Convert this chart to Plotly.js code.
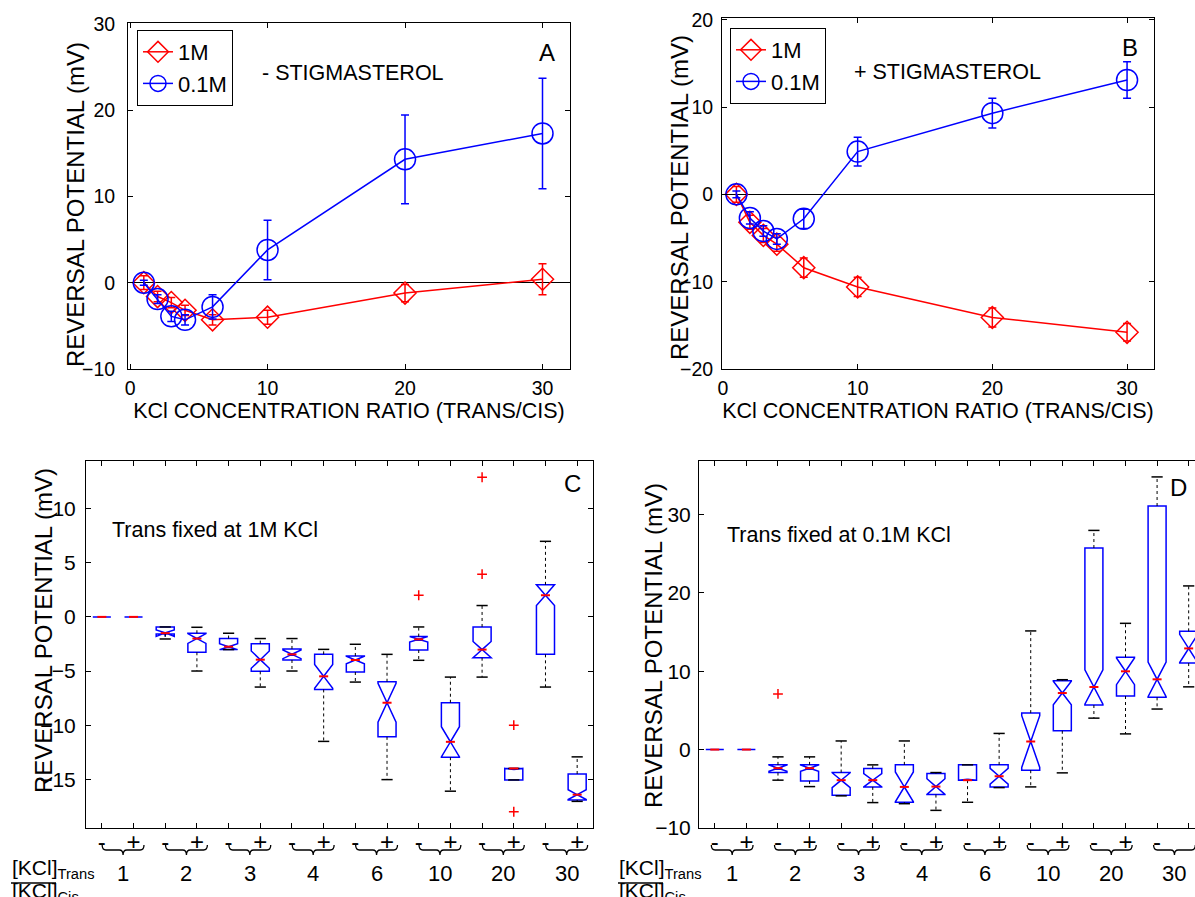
<!DOCTYPE html>
<html><head><meta charset="utf-8">
<script src="https://cdn.plot.ly/plotly-3.0.1.min.js"></script>
<style>html,body{margin:0;padding:0;background:#fff}#chart{width:1195px;height:897px}</style>
</head><body><div id="chart"></div>
<script>
// ---------- Panels A & B : mean reversal potential vs KCl ratio ----------
const ratioX = [1, 2, 3, 4, 6, 10, 20, 30];
const seriesNames = ['1M', '0.1M'];

const aOneM     = [0, -1.6, -2.3, -3.2, -4.3, -4.0, -1.2, 0.4];
const aOneMErr  = [0.8, 0.6, 0.6, 0.6, 0.6, 0.8, 1.0, 1.8];
const aTenthM    = [0, -1.9, -3.9, -4.3, -2.8, 3.8, 14.3, 17.3];
const aTenthMErr = [0.3, 0.5, 0.6, 0.6, 1.4, 3.45, 5.15, 6.4];

const bOneM     = [0, -3.2, -4.7, -5.7, -8.4, -10.6, -14.1, -15.8];
const bOneMErr  = [0.9, 0.8, 0.8, 0.8, 1.1, 1.1, 1.1, 1.0];
const bTenthM    = [0, -2.7, -4.2, -5.1, -2.8, 4.9, 9.3, 13.1];
const bTenthMErr = [0.4, 0.7, 0.6, 0.6, 1.1, 1.65, 1.7, 2.1];

// ---------- Panels C & D : box statistics (order: 1-,1+,2-,2+,...,30-,30+) ----------
const ratioLabels = ['1', '2', '3', '4', '6', '10', '20', '30'];
const condLabels = ['-', '+'];

const cQ1    = [0, 0, -1.57, -3.27, -3.02, -5.03, -3.98, -6.70, -5.09, -11.08, -3.06, -12.96, -3.77, -15.06, -3.46, -16.91];
const cMed   = [0, 0, -1.50, -2.00, -2.75, -3.95, -3.46, -5.49, -3.98, -7.93, -2.07, -11.54, -3.02, -14.00, 2.00, -16.42];
const cQ3    = [0, 0, -0.93, -1.51, -2.00, -2.47, -2.96, -3.46, -3.61, -5.99, -1.82, -7.93, -0.93, -14.00, 2.96, -14.51];
const cLow   = [0, 0, -2.04, -5.00, -3.02, -6.48, -5.00, -11.50, -6.02, -15.03, -4.01, -16.10, -5.56, -15.06, -6.48, -17.04];
const cHigh  = [0, 0, -0.93, -0.96, -1.51, -2.00, -2.00, -3.00, -2.53, -3.46, -0.93, -5.56, 1.05, -14.00, 6.98, -12.93];
const cNotch = [0, 0, 0.3, 0.45, 0.27, 0.8, 0.4, 1.1, 0.35, 1.8, 0.25, 1.4, 0.75, 0, 0.96, 0.45];
const cOutRatio = ['10', '20', '20', '20', '20'];
const cOutCond  = ['-', '-', '-', '+', '+'];
const cOutVal   = [2.0, 12.9, 3.95, -10.0, -18.0];

const dQ1    = [0, 0, -2.93, -4.00, -5.82, -4.76, -6.72, -5.74, -3.90, -4.77, -2.63, 2.40, 5.68, 6.83, 6.66, 11.03];
const dMed   = [0, 0, -2.37, -2.37, -3.90, -3.90, -4.76, -4.72, -3.90, -3.40, 1.03, 7.21, 7.98, 9.98, 8.96, 12.90];
const dQ3    = [0, 0, -1.95, -1.95, -2.93, -2.42, -1.95, -3.06, -1.95, -1.95, 4.65, 8.79, 25.70, 11.77, 31.06, 15.08];
const dLow   = [0, 0, -3.90, -4.72, -5.90, -6.76, -6.90, -7.75, -6.72, -4.85, -4.76, -2.97, 4.01, 2.00, 5.17, 8.00];
const dHigh  = [0, 0, -0.93, -0.93, 1.10, -1.95, 1.10, -2.93, -1.95, 2.06, 15.13, 8.91, 27.95, 16.10, 34.77, 20.87];
const dNotch = [0, 0, 0.4, 0.4, 0.95, 0.85, 1.9, 1.0, 0, 1.0, 3.3, 1.5, 2.2, 1.7, 2.2, 1.8];
const dOutRatio = ['2'];
const dOutCond  = ['-'];
const dOutVal   = [7.1];

// ---------- helpers ----------
const W = 1195, H = 897;
const FONT = 'Arial, "Liberation Sans", sans-serif';
const RED = '#ff0000', BLUE = '#0000ff';
const px = p => p / W;
const py = p => 1 - p / H;
const BW = 0.57, NW = 0.5;

function posOf(ratio, cond) {
  return ratioLabels.indexOf(ratio) * 2 + condLabels.indexOf(cond) + 1;
}

function meanTraces(xa, ya, oneM, oneErr, tenth, tenthErr, legendId) {
  return [
    {type: 'scatter', mode: 'lines+markers', name: seriesNames[0], x: ratioX, y: oneM,
     error_y: {type: 'data', array: oneErr, visible: true, color: RED, thickness: 1.5, width: 4},
     line: {color: RED, width: 1.5},
     marker: {symbol: 'diamond-open', size: 17, color: RED, line: {width: 1.5, color: RED}},
     xaxis: xa, yaxis: ya, legend: legendId, hoverinfo: 'skip'},
    {type: 'scatter', mode: 'lines+markers', name: seriesNames[1], x: ratioX, y: tenth,
     error_y: {type: 'data', array: tenthErr, visible: true, color: BLUE, thickness: 1.5, width: 4},
     line: {color: BLUE, width: 1.5},
     marker: {symbol: 'circle-open', size: 21, color: BLUE, line: {width: 1.5, color: BLUE}},
     xaxis: xa, yaxis: ya, legend: legendId, hoverinfo: 'skip'}
  ];
}

function boxTraces(xa, ya, q1, med, q3, lo, hi, ns, oR, oC, oV) {
  const pos = q1.map((_, i) => i + 1);
  const wx = [], wy = [], cx = [], cy = [], mx = [], my = [];
  pos.forEach((p, i) => {
    if (hi[i] > q3[i]) { wx.push(p, p, null); wy.push(q3[i], hi[i], null); }
    if (lo[i] < q1[i]) { wx.push(p, p, null); wy.push(q1[i], lo[i], null); }
    if (q3[i] > q1[i]) { cx.push(p, p); cy.push(hi[i], lo[i]); }
    const hw = BW / 2 * (1 - NW);
    mx.push(p - hw, p + hw, null); my.push(med[i], med[i], null);
  });
  const common = {xaxis: xa, yaxis: ya, showlegend: false, hoverinfo: 'skip'};
  return [
    Object.assign({type: 'scatter', mode: 'lines', x: wx, y: wy,
      line: {color: '#000', width: 1, dash: 'dot'}}, common),
    Object.assign({type: 'scatter', mode: 'markers', x: cx, y: cy,
      marker: {symbol: 'line-ew', size: 8, color: '#000', line: {color: '#000', width: 1.5}}}, common),
    Object.assign({type: 'box', x: pos, q1: q1, median: med, q3: q3,
      lowerfence: q1, upperfence: q3, notched: true, notchspan: ns, notchwidth: NW,
      width: BW, whiskerwidth: 0, boxpoints: false,
      line: {color: BLUE, width: 1.5}, fillcolor: 'rgba(0,0,0,0)'}, common),
    Object.assign({type: 'scatter', mode: 'lines', x: mx, y: my,
      line: {color: RED, width: 2}}, common),
    Object.assign({type: 'scatter', mode: 'markers', x: oR.map((r, i) => posOf(r, oC[i])), y: oV,
      marker: {symbol: 'cross-thin-open', size: 7, color: RED, line: {color: RED, width: 1.5}}}, common)
  ];
}

const data = [].concat(
  meanTraces('x', 'y', aOneM, aOneMErr, aTenthM, aTenthMErr, 'legend'),
  meanTraces('x2', 'y2', bOneM, bOneMErr, bTenthM, bTenthMErr, 'legend2'),
  boxTraces('x3', 'y3', cQ1, cMed, cQ3, cLow, cHigh, cNotch, cOutRatio, cOutCond, cOutVal),
  boxTraces('x4', 'y4', dQ1, dMed, dQ3, dLow, dHigh, dNotch, dOutRatio, dOutCond, dOutVal)
);

function axisBase(extra) {
  return Object.assign({
    showline: true, linecolor: '#000', linewidth: 1, mirror: 'ticks',
    ticks: 'inside', ticklen: 5, tickcolor: '#000', tickwidth: 1,
    showgrid: false, zeroline: false, fixedrange: true,
    tickfont: {family: FONT, size: 19.5, color: '#000'}
  }, extra);
}
const xTitleFont = {family: FONT, size: 21.5, color: '#000'};
const xTitle = 'KCl CONCENTRATION RATIO (TRANS/CIS)';
const yTitle = 'REVERSAL POTENTIAL (mV)';

const boxTickVals = cQ1.map((_, i) => i + 1);
const boxTickText = boxTickVals.map((_, i) => condLabels[i % 2]);
const boxTickFont = {family: FONT, size: 21, color: '#000'};
const condFont = {family: FONT, size: 24, color: '#000'};

const layout = {
  width: W, height: H, margin: {l: 0, r: 0, t: 0, b: 0},
  paper_bgcolor: '#fff', plot_bgcolor: '#fff',
  font: {family: FONT, color: '#000'},
  xaxis: axisBase({domain: [px(128), px(570)], range: [-0.15, 32], tickvals: [0, 10, 20, 30],
    anchor: 'y', ticklabelstandoff: 2, title: {text: xTitle, font: xTitleFont, standoff: 3}}),
  yaxis: axisBase({domain: [py(369), py(23)], range: [-10, 30.1], tickvals: [-10, 0, 10, 20, 30],
    anchor: 'x', zeroline: true, zerolinecolor: '#000', zerolinewidth: 1, ticklabelstandoff: 8}),
  xaxis2: axisBase({domain: [px(722), px(1154)], range: [-0.07, 32], tickvals: [0, 10, 20, 30],
    anchor: 'y2', ticklabelstandoff: 2, title: {text: xTitle, font: xTitleFont, standoff: 3}}),
  yaxis2: axisBase({domain: [py(369), py(18)], range: [-20, 20.2], tickvals: [-20, -10, 0, 10, 20],
    anchor: 'x2', zeroline: true, zerolinecolor: '#000', zerolinewidth: 1, ticklabelstandoff: 4}),
  xaxis3: axisBase({domain: [px(86), px(593)], range: [0.5, 16.5], tickvals: boxTickVals, ticktext: boxTickText,
    anchor: 'y3', tickfont: condFont, ticklabelstandoff: -8}),
  yaxis3: axisBase({domain: [py(828), py(461)], range: [-19.5, 14.4], tickvals: [-15, -10, -5, 0, 5, 10],
    anchor: 'x3', tickfont: boxTickFont, ticklabelstandoff: 5}),
  xaxis4: axisBase({domain: [px(699), 1], range: [0.5, 16.2], tickvals: boxTickVals, ticktext: boxTickText,
    anchor: 'y4', tickfont: condFont, ticklabelstandoff: -8}),
  yaxis4: axisBase({domain: [py(828), py(461)], range: [-10, 36.8], tickvals: [-10, 0, 10, 20, 30],
    anchor: 'x4', mirror: false, tickfont: boxTickFont, ticklabelstandoff: 3}),
  legend: {x: px(137), y: py(30), xanchor: 'left', yanchor: 'top', bgcolor: '#fff',
    bordercolor: '#000', borderwidth: 1, font: {family: FONT, size: 22, color: '#000'},
    tracegroupgap: 0, itemwidth: 30},
  legend2: {x: px(730), y: py(28), xanchor: 'left', yanchor: 'top', bgcolor: '#fff',
    bordercolor: '#000', borderwidth: 1, font: {family: FONT, size: 22, color: '#000'},
    tracegroupgap: 0, itemwidth: 30},
  annotations: [],
  shapes: []
};

const ann = layout.annotations, shp = layout.shapes;
function txt(x, y, text, size, xanchor, extra) {
  ann.push(Object.assign({xref: 'paper', yref: 'paper', x: px(x), y: py(y), text: text, showarrow: false,
    xanchor: xanchor || 'left', yanchor: 'middle', font: {family: FONT, size: size, color: '#000'}}, extra || {}));
}
// vertical axis titles
txt(75, 205, yTitle, 24, 'center', {textangle: -90});
txt(680, 198, yTitle, 24, 'center', {textangle: -90});
txt(43, 631, yTitle, 24, 'center', {textangle: -90});
txt(653, 646, yTitle, 24, 'center', {textangle: -90});

txt(260, 73, '- STIGMASTEROL', 21.5);
txt(852, 72, '+ STIGMASTEROL', 21.5);
txt(547, 52, 'A', 24, 'center');
txt(1130, 48, 'B', 24, 'center');
txt(572, 483, 'C', 24, 'center');
txt(1178, 487, 'D', 24, 'center');
txt(110, 530, 'Trans fixed at 1M KCl', 21.5);
txt(725, 535, 'Trans fixed at 0.1M KCl', 21.5);

// group labels + braces under the box panels
function groupLabels(xa, offset) {
  ratioLabels.forEach((r, g) => {
    const c = g * 2 + 1 + offset;
    ann.push({xref: xa, yref: 'paper', x: c, y: py(873), text: r, showarrow: false,
      xanchor: 'center', yanchor: 'middle', font: {family: FONT, size: 22, color: '#000'}});
    const x0 = c - 0.66, x1 = c + 0.66, d = 0.12;
    const yt = py(845), yb = py(850), ytip = py(855);
    shp.push({type: 'path', xref: xa, yref: 'paper', line: {color: '#000', width: 1.3},
      path: `M${x0},${yt} Q${x0},${yb} ${x0 + d},${yb} L${c - d},${yb} Q${c},${yb} ${c},${ytip} ` +
            `Q${c},${yb} ${c + d},${yb} L${x1 - d},${yb} Q${x1},${yb} ${x1},${yt}`});
  });
}
groupLabels('x3', 0.67);
groupLabels('x4', 0.55);

// fraction label [KCl]Trans / [KCl]Cis
function fraction(x0) {
  txt(x0, 869, '[KCl]<sub>Trans</sub>', 21);
  txt(x0, 892, '[KCl]<sub>Cis</sub>', 21);
  shp.push({type: 'line', xref: 'paper', yref: 'paper', x0: px(x0 + 1), x1: px(x0 + 46),
    y0: py(883), y1: py(883), line: {color: '#000', width: 1.5}});
}
fraction(10);
fraction(617);

Plotly.newPlot('chart', data, layout, {staticPlot: true, displayModeBar: false});
</script></body></html>
